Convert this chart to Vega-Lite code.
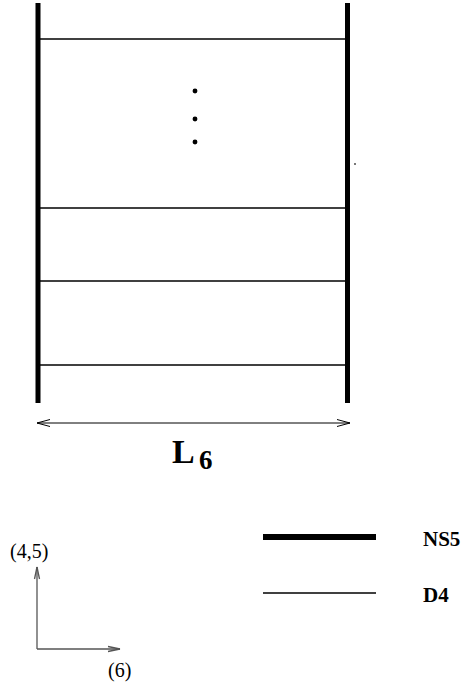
{
  "$schema": "https://vega.github.io/schema/vega-lite/v6.json",
  "width": 465,
  "height": 682,
  "padding": 0,
  "autosize": {"type": "fit", "contains": "padding"},
  "background": "white",
  "config": {"view": {"stroke": null}},
  "datasets": {
    "posts": [
      {"x": 38, "y": 3, "xe": 38, "ye": 403},
      {"x": 347.5, "y": 3, "xe": 347.5, "ye": 403}
    ],
    "rungs": [
      {"x": 38, "y": 39, "xe": 347.5, "ye": 39},
      {"x": 38, "y": 208, "xe": 347.5, "ye": 208},
      {"x": 38, "y": 281, "xe": 347.5, "ye": 281},
      {"x": 38, "y": 365, "xe": 347.5, "ye": 365},
      {"x": 263, "y": 593, "xe": 376, "ye": 593}
    ],
    "span": [
      {"x": 37, "y": 423, "xe": 350, "ye": 423},
      {"x": 37, "y": 423, "xe": 50, "ye": 419.5},
      {"x": 37, "y": 423, "xe": 50, "ye": 426.5},
      {"x": 350, "y": 423, "xe": 337, "ye": 419.5},
      {"x": 350, "y": 423, "xe": 337, "ye": 426.5}
    ],
    "frame": [
      {"x": 37, "y": 649, "xe": 37, "ye": 567},
      {"x": 37, "y": 649, "xe": 120, "ye": 649},
      {"x": 37, "y": 567, "xe": 34.5, "ye": 579},
      {"x": 37, "y": 567, "xe": 39.5, "ye": 579},
      {"x": 120, "y": 649, "xe": 108, "ye": 646.5},
      {"x": 120, "y": 649, "xe": 108, "ye": 651.5}
    ],
    "key": [
      {"x": 263, "y": 537, "xe": 376, "ye": 537}
    ],
    "dots": [
      {"x": 195, "y": 91},
      {"x": 195, "y": 119},
      {"x": 195, "y": 142}
    ],
    "speck": [
      {"x": 355, "y": 164}
    ],
    "big": [
      {"x": 172, "y": 463, "label": "L"}
    ],
    "sub": [
      {"x": 199, "y": 469, "label": "6"}
    ],
    "names": [
      {"x": 423, "y": 546, "label": "NS5"},
      {"x": 423, "y": 602, "label": "D4"}
    ],
    "dirs": [
      {"x": 10, "y": 558, "label": "(4,5)"},
      {"x": 108, "y": 677, "label": "(6)"}
    ]
  },
  "encoding": {
    "x": {"field": "x", "type": "quantitative", "scale": {"domain": [0, 465], "nice": false, "zero": false}, "axis": null},
    "y": {"field": "y", "type": "quantitative", "scale": {"domain": [0, 682], "nice": false, "zero": false, "reverse": true}, "axis": null}
  },
  "layer": [
    {
      "data": {"name": "posts"},
      "mark": {"type": "rule", "color": "black", "strokeWidth": 5},
      "encoding": {"x2": {"field": "xe"}, "y2": {"field": "ye"}}
    },
    {
      "data": {"name": "rungs"},
      "mark": {"type": "rule", "color": "black", "strokeWidth": 1.3},
      "encoding": {"x2": {"field": "xe"}, "y2": {"field": "ye"}}
    },
    {
      "data": {"name": "span"},
      "mark": {"type": "rule", "color": "black", "strokeWidth": 1},
      "encoding": {"x2": {"field": "xe"}, "y2": {"field": "ye"}}
    },
    {
      "data": {"name": "frame"},
      "mark": {"type": "rule", "color": "#555555", "strokeWidth": 1.3},
      "encoding": {"x2": {"field": "xe"}, "y2": {"field": "ye"}}
    },
    {
      "data": {"name": "key"},
      "mark": {"type": "rule", "color": "black", "strokeWidth": 6},
      "encoding": {"x2": {"field": "xe"}, "y2": {"field": "ye"}}
    },
    {
      "data": {"name": "dots"},
      "mark": {"type": "point", "shape": "circle", "filled": true, "color": "black", "opacity": 1, "size": 24},
      "encoding": {}
    },
    {
      "data": {"name": "speck"},
      "mark": {"type": "point", "shape": "square", "filled": true, "color": "black", "opacity": 1, "size": 2},
      "encoding": {}
    },
    {
      "data": {"name": "big"},
      "mark": {"type": "text", "font": "Liberation Serif", "fontWeight": "bold", "fontSize": 34, "align": "left", "baseline": "alphabetic", "color": "black"},
      "encoding": {"text": {"field": "label"}}
    },
    {
      "data": {"name": "sub"},
      "mark": {"type": "text", "font": "Liberation Serif", "fontWeight": "bold", "fontSize": 27, "align": "left", "baseline": "alphabetic", "color": "black"},
      "encoding": {"text": {"field": "label"}}
    },
    {
      "data": {"name": "names"},
      "mark": {"type": "text", "font": "Liberation Serif", "fontWeight": "bold", "fontSize": 21, "align": "left", "baseline": "alphabetic", "color": "black"},
      "encoding": {"text": {"field": "label"}}
    },
    {
      "data": {"name": "dirs"},
      "mark": {"type": "text", "font": "Liberation Serif", "fontSize": 20, "align": "left", "baseline": "alphabetic", "color": "black"},
      "encoding": {"text": {"field": "label"}}
    }
  ]
}
